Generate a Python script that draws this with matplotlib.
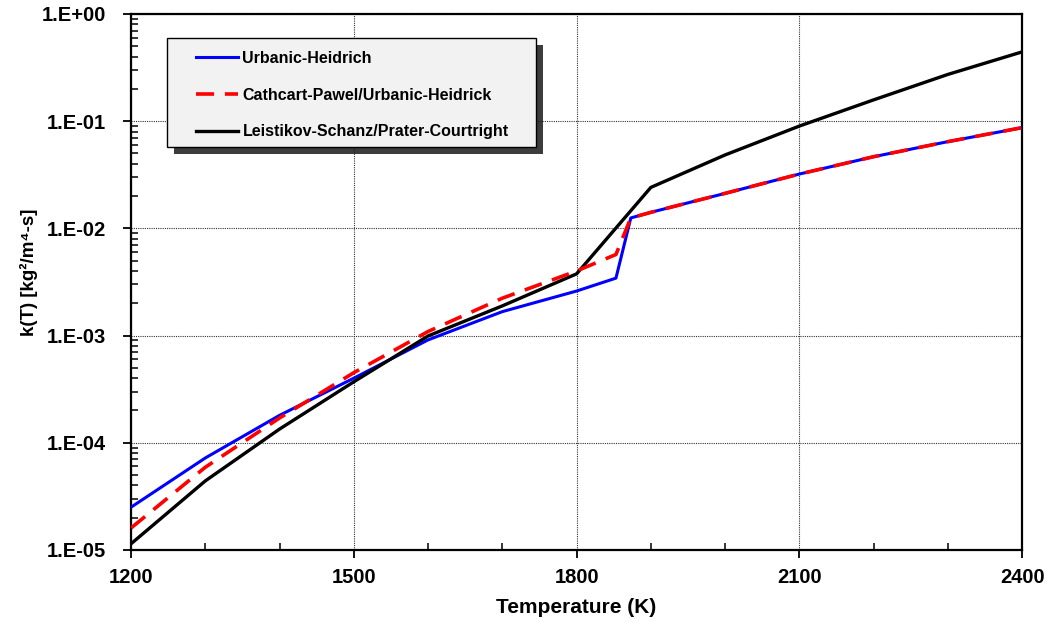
import matplotlib
matplotlib.use("Agg")
import matplotlib.pyplot as plt
from matplotlib.ticker import FixedLocator, FuncFormatter, MultipleLocator, LogLocator, NullFormatter
from matplotlib.patches import Rectangle
import numpy as np

plt.rcParams['font.family'] = ['Liberation Sans', 'DejaVu Sans']
plt.rcParams['font.weight'] = 'bold'

# ---- data ----
T_uh = [1200, 1300, 1400, 1500, 1600, 1700, 1800, 1853, 1873, 1900, 2000, 2100, 2200, 2300, 2400]
k_uh = [2.5e-5, 7.2e-5, 1.8e-4, 4.0e-4, 9.1e-4, 1.67e-3, 2.6e-3, 3.43e-3, 1.25e-2, 1.41e-2,
        2.12e-2, 3.21e-2, 4.66e-2, 6.44e-2, 8.7e-2]

T_cp = [1200, 1300, 1400, 1500, 1600, 1700, 1800, 1853, 1873, 1900, 2000, 2100, 2200, 2300, 2400]
k_cp = [1.6e-5, 5.9e-5, 1.7e-4, 4.5e-4, 1.09e-3, 2.23e-3, 4.0e-3, 5.7e-3, 1.25e-2, 1.41e-2,
        2.12e-2, 3.21e-2, 4.66e-2, 6.44e-2, 8.7e-2]

T_ls = [1200, 1300, 1400, 1500, 1600, 1700, 1800, 1900, 2000, 2100, 2200, 2300, 2400]
k_ls = [1.14e-5, 4.4e-5, 1.34e-4, 3.7e-4, 9.9e-4, 1.89e-3, 3.76e-3, 2.41e-2, 4.84e-2,
        9.0e-2, 0.158, 0.273, 0.443]

labels = ["Urbanic-Heidrich", "Cathcart-Pawel/Urbanic-Heidrick", "Leistikov-Schanz/Prater-Courtright"]
x_ticks = [1200, 1500, 1800, 2100, 2400]

fig = plt.figure(figsize=(10.57, 6.22), dpi=100)
ax = fig.add_axes([0.124, 0.116, 0.843, 0.8615])

l1, = ax.plot(T_uh, k_uh, color='#0000ff', lw=2.2, zorder=3)
l2, = ax.plot(T_cp, k_cp, color='#ff0000', lw=2.6, dashes=(5, 3), zorder=4)
l3, = ax.plot(T_ls, k_ls, color='black', lw=2.4, zorder=3)

ax.set_yscale('log')
ax.set_xlim(1200, 2400)
ax.set_ylim(1e-5, 1e0)

ax.xaxis.set_major_locator(FixedLocator(x_ticks))
ax.xaxis.set_minor_locator(MultipleLocator(100))
ax.yaxis.set_major_locator(LogLocator(base=10, numticks=10))
ax.yaxis.set_minor_locator(LogLocator(base=10, subs=np.arange(2, 10), numticks=20))
ax.yaxis.set_minor_formatter(NullFormatter())
ax.yaxis.set_major_formatter(FuncFormatter(lambda v, p: "1.E{:+03d}".format(int(round(np.log10(v))))))

ax.tick_params(which='major', direction='out', length=6, width=1.3, labelsize=14.5, pad=7)
ax.tick_params(axis='y', which='major', pad=12)
ax.tick_params(which='minor', direction='in', length=5, width=1.1)
for lab in ax.get_xticklabels() + ax.get_yticklabels():
    lab.set_fontweight('bold')

ax.grid(True, which='major', color='#333333', lw=0.8, linestyle=(0, (1, 1)))
for s in ax.spines.values():
    s.set_linewidth(1.6)

ax.set_xlabel("Temperature (K)", fontsize=15, fontweight='bold', labelpad=8)
ax.set_ylabel("k(T) [kg\u00b2/m\u2074-s]", fontsize=13.5, fontweight='bold')
ax.yaxis.set_label_coords(-0.1044, 0.517)

# legend box with shadow
x0, y0, w, h = 0.0404, 0.7519, 0.4141, 0.2033
dx, dy = 7 / 891, 7 / 536
ax.add_patch(Rectangle((x0 + dx, y0 - dy), w, h, transform=ax.transAxes,
                       facecolor='#1a1a1a', edgecolor='none', alpha=0.85, zorder=5))
ax.add_patch(Rectangle((x0, y0), w, h, transform=ax.transAxes,
                       facecolor='#f2f2f2', edgecolor='black', lw=1.0, zorder=6))
leg = ax.legend([l1, l2, l3], labels, loc='upper left', bbox_to_anchor=(0.073, 0.931),
                frameon=False, borderpad=0, borderaxespad=0, handlelength=2.6,
                handletextpad=0.3, labelspacing=1.35, prop={'size': 11.5, 'weight': 'bold'})
leg.set_zorder(7)

fig.savefig("out.png", dpi=100)
